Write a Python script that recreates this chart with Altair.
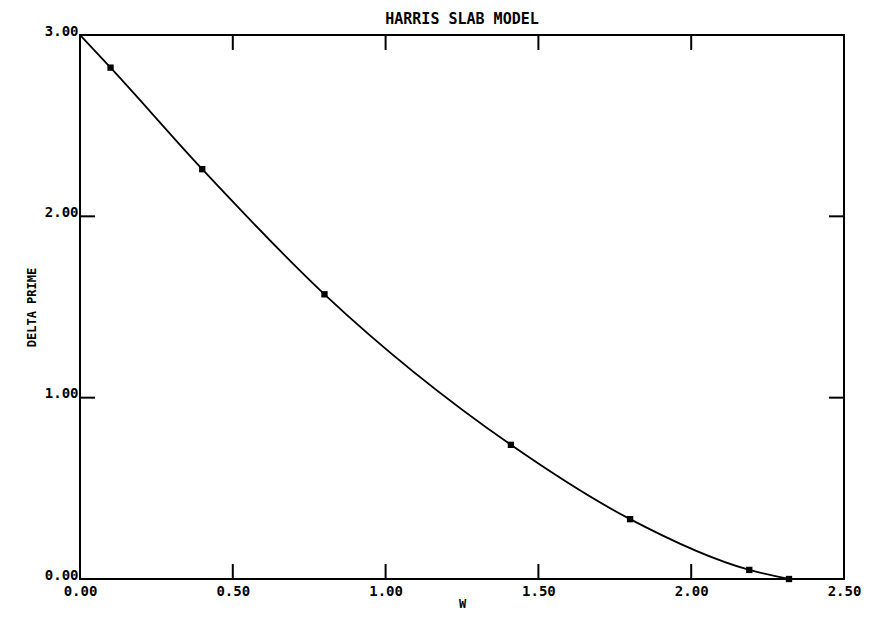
import altair as alt
import pandas as pd

# Curve (starts at w=0, delta'=3) and plotted sample points
curve_w = [0.0, 0.10, 0.40, 0.80, 1.41, 1.80, 2.19, 2.32]
curve_d = [3.0, 2.82, 2.26, 1.57, 0.74, 0.33, 0.05, 0.0]
pts_w = [0.10, 0.40, 0.80, 1.41, 1.80, 2.19, 2.32]
pts_d = [2.82, 2.26, 1.57, 0.74, 0.33, 0.05, 0.0]

x_ticks = [0.5, 1.0, 1.5, 2.0]
y_ticks = [1.0, 2.0]
x_label_vals = [0.0, 0.5, 1.0, 1.5, 2.0, 2.5]
y_label_vals = [0.0, 1.0, 2.0, 3.0]

W, H = 764, 544
FONT = "DejaVu Sans Mono"

curve_df = pd.DataFrame({"w": curve_w, "d": curve_d})
pts_df = pd.DataFrame({"w": pts_w, "d": pts_d})
xt_df = pd.DataFrame({"w": x_ticks})
yt_df = pd.DataFrame({"d": y_ticks})

xscale = alt.Scale(domain=[0, 2.5], nice=False, zero=False)
yscale = alt.Scale(domain=[0, 3], nice=False, zero=False)

xaxis = alt.Axis(values=x_label_vals, format=".2f", tickSize=0, domain=False, grid=False,
                 labelFont=FONT, labelFontWeight="bold", labelFontSize=14, labelColor="black",
                 labelPadding=5, titleFont=FONT, titleFontWeight="bold", titleFontSize=12,
                 titleColor="black", titlePadding=0, labelFlush=False)
yaxis = alt.Axis(values=y_label_vals, format=".2f", tickSize=0, domain=False, grid=False,
                 labelFont=FONT, labelFontWeight="bold", labelFontSize=14, labelColor="black",
                 labelPadding=2, labelOffset=-4, titleFont=FONT, titleFontWeight="bold",
                 titleFontSize=12, titleColor="black", titlePadding=6, labelFlush=False)


def X():
    return alt.X("w:Q", scale=xscale, title="W", axis=xaxis)


def Y():
    return alt.Y("d:Q", scale=yscale, title="DELTA PRIME", axis=yaxis)


line = alt.Chart(curve_df).mark_line(color="black", strokeWidth=1.8, interpolate="monotone").encode(
    x=X(), y=Y())

points = alt.Chart(pts_df).mark_square(color="black", size=40, opacity=1).encode(x=X(), y=Y())

bottom_ticks = alt.Chart(xt_df).mark_rule(color="black", strokeWidth=2).encode(
    x=X(), y=alt.value(H), y2=alt.value(H - 15))
top_ticks = alt.Chart(xt_df).mark_rule(color="black", strokeWidth=2).encode(
    x=X(), y=alt.value(0), y2=alt.value(15))
left_ticks = alt.Chart(yt_df).mark_rule(color="black", strokeWidth=2).encode(
    y=Y(), x=alt.value(0), x2=alt.value(15))
right_ticks = alt.Chart(yt_df).mark_rule(color="black", strokeWidth=2).encode(
    y=Y(), x=alt.value(W), x2=alt.value(W - 15))

chart = alt.layer(line, points, bottom_ticks, top_ticks, left_ticks, right_ticks).properties(
    width=W, height=H,
    title=alt.TitleParams("HARRIS SLAB MODEL", font=FONT, fontSize=15, fontWeight="bold",
                          color="black", anchor="middle", offset=-3),
    autosize=alt.AutoSizeParams(type="none"),
    padding={"left": 72, "top": 27, "right": 18, "bottom": 31},
).configure(background="white").configure_view(stroke="black", strokeWidth=2)

chart.save("out.html", embed_options={"renderer": "svg", "actions": False})
